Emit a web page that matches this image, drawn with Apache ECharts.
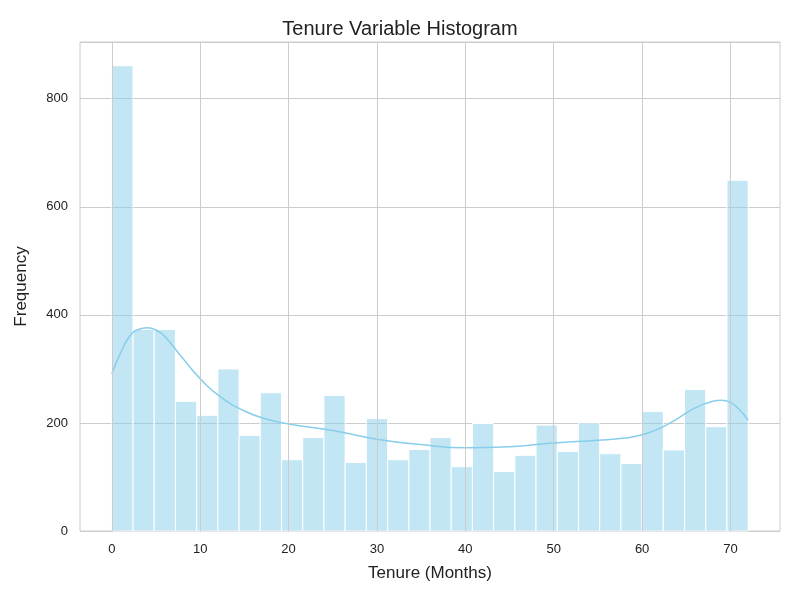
<!DOCTYPE html>
<html>
<head>
<meta charset="utf-8">
<script src="https://cdn.jsdelivr.net/npm/echarts@6/dist/echarts.min.js"></script>
<style>html,body{margin:0;padding:0;background:#fff}#chart{width:800px;height:600px}</style>
</head>
<body>
<div id="chart"></div>
<script>
// histogram: 30 bins from 0 to 72 months
var binStart = 0;
var binWidth = 2.4;
var counts = [861, 373, 373, 240, 214, 300, 177, 256, 132, 173, 251, 127, 208, 132, 151,
  173, 119, 199, 110, 140, 196, 147, 200, 143, 125, 221, 150, 262, 193, 649];
// kde curve (scaled to counts)
var kdeX = [0, 1, 2, 3, 4, 5, 6, 8, 10, 12, 15, 18, 20, 25, 30, 35, 40, 45, 50, 55, 58, 60, 62, 64, 66, 68, 69, 70, 71, 72];
var kdeY = [291, 330, 360, 373, 376, 372, 360, 320, 282, 252, 222, 205, 198, 186, 170, 160, 154, 156, 163, 168, 172, 178, 190, 208, 228, 240, 242, 238, 225, 205];
var xTicks = [0, 10, 20, 30, 40, 50, 60, 70];

var bars = counts.map(function (c, i) { return [binStart + i * binWidth, binStart + (i + 1) * binWidth, c]; });
var kde = kdeX.map(function (x, i) { return [x, kdeY[i]]; });

var font = 'Liberation Sans';
var chart = echarts.init(document.getElementById('chart'));
chart.setOption({
  animation: false,
  title: { text: 'Tenure Variable Histogram', left: 'center', top: 14,
    textStyle: { fontFamily: font, fontSize: 20, fontWeight: 'normal', color: '#222' } },
  grid: { left: 80, right: 20, top: 42, bottom: 69, show: true, borderColor: '#cccccc', borderWidth: 1 },
  xAxis: {
    type: 'value', min: -3.6, max: 75.6,
    name: 'Tenure (Months)', nameLocation: 'middle', nameGap: 34,
    nameTextStyle: { fontFamily: font, fontSize: 17, color: '#222' },
    axisLine: { show: false }, axisTick: { show: false }, splitLine: { show: false },
    axisLabel: { customValues: xTicks, fontFamily: font, fontSize: 13, color: '#222', margin: 12 }
  },
  yAxis: {
    type: 'value', min: 0, max: 905, interval: 200,
    name: 'Frequency', nameLocation: 'middle', nameGap: 50,
    nameTextStyle: { fontFamily: font, fontSize: 17, color: '#222' },
    axisLine: { show: false }, axisTick: { show: false },
    splitLine: { lineStyle: { color: '#cccccc', width: 1 } },
    axisLabel: { fontFamily: font, fontSize: 13, color: '#222', margin: 12, showMaxLabel: false }
  },
  series: [
    {
      type: 'line', data: [], silent: true,
      markLine: { symbol: 'none', silent: true, label: { show: false },
        lineStyle: { color: '#cccccc', width: 1, type: 'solid' },
        data: xTicks.map(function (v) { return { xAxis: v }; }) }
    },
    {
      type: 'custom', data: bars,
      renderItem: function (params, api) {
        var p0 = api.coord([api.value(0), api.value(2)]);
        var p1 = api.coord([api.value(1), 0]);
        return { type: 'rect', shape: { x: p0[0], y: p0[1], width: p1[0] - p0[0], height: p1[1] - p0[1] },
          style: { fill: 'rgba(135,206,235,0.5)', stroke: '#ffffff', lineWidth: 1 } };
      },
      encode: { x: [0, 1], y: 2 }
    },
    {
      type: 'line', data: kde, smooth: true, showSymbol: false,
      lineStyle: { color: '#87ceeb', width: 1.5 }
    }
  ]
});
</script>
</body>
</html>
